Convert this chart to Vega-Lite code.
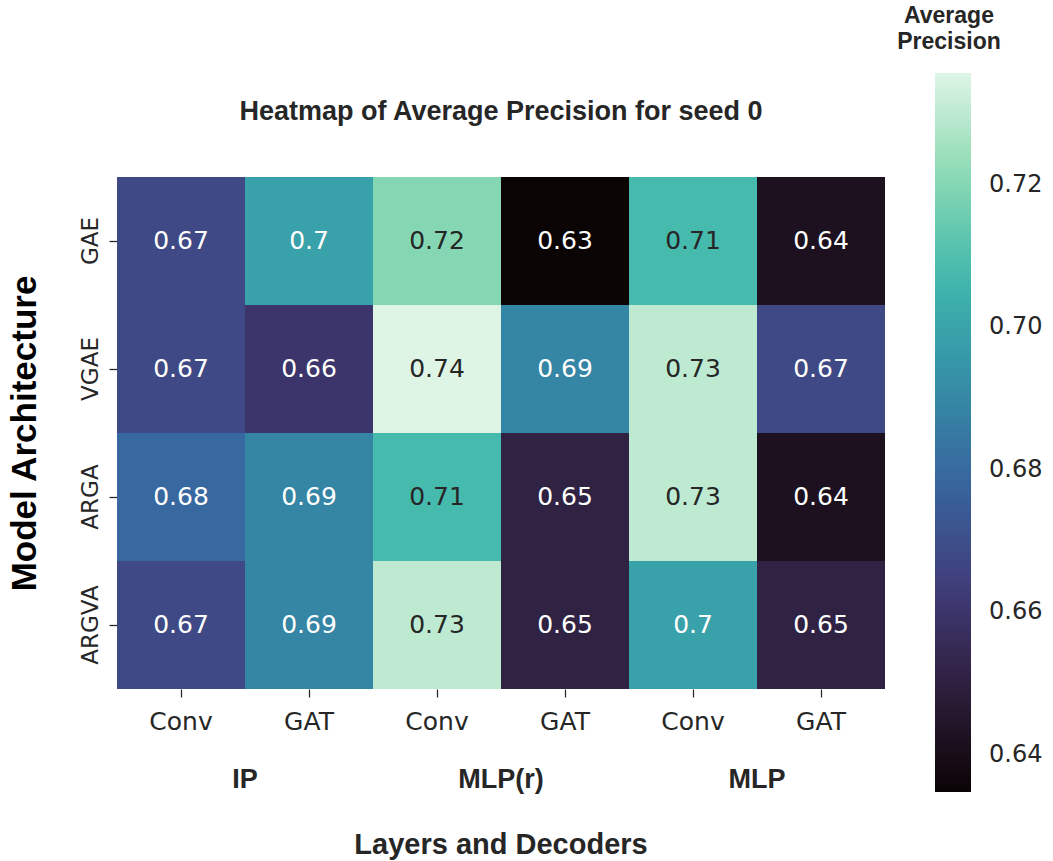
{
  "$schema": "https://vega.github.io/schema/vega-lite/v6.json",
  "padding": {"left": 7, "top": 5, "right": 5, "bottom": 0},
  "background": "white",
  "title": {
    "text": "Heatmap of Average Precision for seed 0",
    "font": "Liberation Sans",
    "fontSize": 27,
    "fontWeight": "bold",
    "color": "#262626",
    "anchor": "start",
    "align": "center",
    "frame": "group",
    "dx": 384,
    "offset": -121
  },
  "data": {
    "values": [
      {"model": "GAE", "decoder": "IP", "layer": "Conv", "ap": 0.668},
      {"model": "GAE", "decoder": "IP", "layer": "GAT", "ap": 0.699},
      {"model": "GAE", "decoder": "MLP(r)", "layer": "Conv", "ap": 0.720},
      {"model": "GAE", "decoder": "MLP(r)", "layer": "GAT", "ap": 0.6348},
      {"model": "GAE", "decoder": "MLP", "layer": "Conv", "ap": 0.708},
      {"model": "GAE", "decoder": "MLP", "layer": "GAT", "ap": 0.642},
      {"model": "VGAE", "decoder": "IP", "layer": "Conv", "ap": 0.668},
      {"model": "VGAE", "decoder": "IP", "layer": "GAT", "ap": 0.660},
      {"model": "VGAE", "decoder": "MLP(r)", "layer": "Conv", "ap": 0.7357},
      {"model": "VGAE", "decoder": "MLP(r)", "layer": "GAT", "ap": 0.689},
      {"model": "VGAE", "decoder": "MLP", "layer": "Conv", "ap": 0.730},
      {"model": "VGAE", "decoder": "MLP", "layer": "GAT", "ap": 0.668},
      {"model": "ARGA", "decoder": "IP", "layer": "Conv", "ap": 0.679},
      {"model": "ARGA", "decoder": "IP", "layer": "GAT", "ap": 0.689},
      {"model": "ARGA", "decoder": "MLP(r)", "layer": "Conv", "ap": 0.708},
      {"model": "ARGA", "decoder": "MLP(r)", "layer": "GAT", "ap": 0.651},
      {"model": "ARGA", "decoder": "MLP", "layer": "Conv", "ap": 0.730},
      {"model": "ARGA", "decoder": "MLP", "layer": "GAT", "ap": 0.642},
      {"model": "ARGVA", "decoder": "IP", "layer": "Conv", "ap": 0.668},
      {"model": "ARGVA", "decoder": "IP", "layer": "GAT", "ap": 0.689},
      {"model": "ARGVA", "decoder": "MLP(r)", "layer": "Conv", "ap": 0.730},
      {"model": "ARGVA", "decoder": "MLP(r)", "layer": "GAT", "ap": 0.651},
      {"model": "ARGVA", "decoder": "MLP", "layer": "Conv", "ap": 0.699},
      {"model": "ARGVA", "decoder": "MLP", "layer": "GAT", "ap": 0.651}
    ]
  },
  "facet": {
    "column": {
      "field": "decoder",
      "type": "nominal",
      "sort": ["IP", "MLP(r)", "MLP"],
      "header": {
        "labelOrient": "bottom",
        "titleOrient": "bottom",
        "labelFont": "Liberation Sans",
        "labelFontWeight": "bold",
        "labelFontSize": 27,
        "labelColor": "#262626",
        "labelPadding": 33,
        "title": "Layers and Decoders",
        "titleFont": "Liberation Sans",
        "titleFontSize": 29,
        "titleFontWeight": "bold",
        "titleColor": "#262626",
        "titlePadding": 28
      }
    }
  },
  "spacing": 0,
  "spec": {
    "width": 256,
    "height": 512,
    "encoding": {
      "x": {
        "field": "layer",
        "type": "nominal",
        "sort": ["Conv", "GAT"],
        "scale": {"paddingInner": 0, "paddingOuter": 0},
        "axis": {
          "title": null,
          "labelAngle": 0,
          "labelFont": "DejaVu Sans",
          "labelFontSize": 25,
          "labelColor": "#262626",
          "labelPadding": 12,
          "tickSize": 8,
          "tickWidth": 1.25,
          "tickColor": "#262626",
          "domain": false
        }
      },
      "y": {
        "field": "model",
        "type": "nominal",
        "sort": ["GAE", "VGAE", "ARGA", "ARGVA"],
        "scale": {"paddingInner": 0, "paddingOuter": 0},
        "axis": {
          "title": "Model Architecture",
          "titleFont": "Liberation Sans",
          "titleFontSize": 35,
          "titleFontWeight": "bold",
          "titleColor": "#000000",
          "titlePadding": 37,
          "labelAngle": -90,
          "labelFont": "DejaVu Sans",
          "labelFontSize": 23,
          "labelColor": "#262626",
          "labelPadding": 7,
          "tickSize": 8,
          "tickWidth": 1.25,
          "tickColor": "#262626",
          "domain": false
        }
      }
    },
    "layer": [
      {
        "mark": {"type": "rect", "strokeWidth": 0},
        "encoding": {
          "color": {
            "field": "ap",
            "type": "quantitative",
            "scale": {
              "domain": [0.6348, 0.6492, 0.6637, 0.6781, 0.6924, 0.7068, 0.7213, 0.7357],
              "range": ["#0b0405", "#2e1e3b", "#413d7b", "#37659e", "#348fa7", "#40b7ad", "#8bdab2", "#def5e5"],
              "interpolate": "rgb"
            },
            "legend": {
              "title": ["Average", "Precision"],
              "orient": "none",
              "direction": "vertical",
              "legendX": 780,
              "legendY": -172,
              "titleFont": "Liberation Sans",
              "titleFontSize": 23,
              "titleFontWeight": "bold",
              "titleColor": "#262626",
              "titleLineHeight": 26,
              "titleAlign": "center",
              "titleAnchor": "start",
              "titlePadding": 19,
              "gradientLength": 719,
              "gradientThickness": 36,
              "gradientStrokeWidth": 0,
              "values": [0.64, 0.66, 0.68, 0.70, 0.72],
              "format": ".2f",
              "labelFont": "DejaVu Sans",
              "labelFontSize": 24,
              "labelColor": "#262626",
              "labelOffset": 18,
              "encode": {"title": {"update": {"dx": {"value": 14}}}}
            }
          }
        }
      },
      {
        "mark": {"type": "text", "font": "DejaVu Sans", "fontSize": 25, "align": "center", "baseline": "middle"},
        "encoding": {
          "text": {"field": "ap", "type": "quantitative", "format": ".2~f"},
          "color": {
            "condition": {"test": "datum.ap > 0.704", "value": "#262626"},
            "value": "#ffffff"
          }
        }
      }
    ]
  },
  "config": {
    "view": {"stroke": null},
    "axis": {"grid": false}
  }
}
